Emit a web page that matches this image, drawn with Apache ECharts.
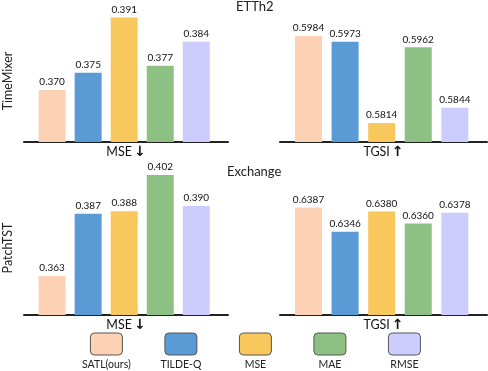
<!DOCTYPE html>
<html>
<head>
<meta charset="utf-8">
<script src="https://cdn.jsdelivr.net/npm/echarts@6/dist/echarts.min.js"></script>
<style>
  html, body { margin: 0; padding: 0; background: #fff; }
  #container { width: 488px; height: 371px; }
</style>
</head>
<body>
<div id="container"></div>
<script>
const methods = ['SATL(ours)', 'TILDE-Q', 'MSE', 'MAE', 'RMSE'];
const colors = ['#fdd1b3', '#5b9bd5', '#f9c85c', '#8dc183', '#ccccff'];
const datasets = ['ETTh2', 'Exchange'];
const models = ['TimeMixer', 'PatchTST'];
const metrics = ['MSE', 'TGSI'];
const arrows = ['↓', '↑'];
const ettMse = [0.370, 0.375, 0.391, 0.377, 0.384];
const ettTgsi = [0.5984, 0.5973, 0.5814, 0.5962, 0.5844];
const excMse = [0.363, 0.387, 0.388, 0.402, 0.390];
const excTgsi = [0.6387, 0.6346, 0.6380, 0.6360, 0.6378];

const FONT = 'Lato, "DejaVu Sans", sans-serif';

// panel layout: row, column, values, decimals, y range
const panels = [
    { data: ettMse, digits: 3, row: 0, col: 0, ymin: 0.3549, ymax: 0.3932 },
    { data: ettTgsi, digits: 4, row: 0, col: 1, ymin: 0.5777, ymax: 0.6035 },
    { data: excMse, digits: 3, row: 1, col: 0, ymin: 0.3479, ymax: 0.4039 },
    { data: excTgsi, digits: 4, row: 1, col: 1, ymin: 0.6206, ymax: 0.6450 }
];
const rowBox = [{ top: 10, height: 132, mid: 81 }, { top: 170, height: 145, mid: 248 }];
const colBox = [{ left: 24, width: 204 }, { left: 280, width: 207 }];

const chart = echarts.init(document.getElementById('container'), null, { renderer: 'canvas' });

const grid = [], xAxis = [], yAxis = [], series = [];
panels.forEach((p, i) => {
    grid.push({
        left: colBox[p.col].left, width: colBox[p.col].width,
        top: rowBox[p.row].top, height: rowBox[p.row].height
    });
    xAxis.push({
        type: 'value', gridIndex: i, min: -0.78, max: 4.88,
        axisLine: { show: true, onZero: false, lineStyle: { color: '#222', width: 2 } },
        axisTick: { show: false }, axisLabel: { show: false }, splitLine: { show: false },
        name: metrics[p.col] + '{a|' + arrows[p.col] + '}', nameLocation: 'middle', nameGap: 3,
        nameTextStyle: {
            fontFamily: FONT, fontSize: 12.5, color: '#111', verticalAlign: 'top',
            rich: { a: { fontFamily: '"DejaVu Sans"', fontWeight: 'bold', fontSize: 14, color: '#111', padding: [0, 0, 0, 2] } }
        }
    });
    yAxis.push({
        type: 'value', gridIndex: i, min: p.ymin, max: p.ymax, show: false
    });
    series.push({
        type: 'bar', xAxisIndex: i, yAxisIndex: i, barWidth: 27,
        data: p.data.map((v, k) => ({ value: [k, v], itemStyle: { color: colors[k] } })),
        label: {
            show: true, position: 'top', distance: 3,
            fontFamily: FONT, fontSize: 10, color: '#111',
            formatter: (param) => param.value[1].toFixed(p.digits)
        }
    });
});

const graphic = [];
// model names on the left, rotated
models.forEach((m, r) => {
    graphic.push({
        type: 'text', x: 8, y: rowBox[r].mid, rotation: Math.PI / 2,
        style: { text: m, fontFamily: FONT, fontSize: 12.5, fill: '#222', textAlign: 'center', textVerticalAlign: 'middle' }
    });
});
// legend: boxes with names underneath
methods.forEach((m, k) => {
    const cx = 106.4 + k * 74.5;
    graphic.push({
        type: 'rect', x: cx - 16, y: 333,
        shape: { x: 0, y: 0, width: 32, height: 22, r: 4 },
        style: { fill: colors[k], stroke: '#555', lineWidth: 1 }
    });
    graphic.push({
        type: 'text', x: cx, y: 365,
        style: { text: m, fontFamily: FONT, fontSize: 10.5, fill: '#222', textAlign: 'center', textVerticalAlign: 'middle' }
    });
});

const option = {
    animation: false,
    title: [
        { text: datasets[0], left: 236, top: 0, padding: 0, textStyle: { fontFamily: FONT, fontSize: 13, fontWeight: 'normal', color: '#222' } },
        { text: datasets[1], left: 227, top: 165, padding: 0, textStyle: { fontFamily: FONT, fontSize: 13, fontWeight: 'normal', color: '#222' } }
    ],
    grid, xAxis, yAxis, series, graphic
};
chart.setOption(option);
window.addEventListener('resize', () => chart.resize());
</script>
</body>
</html>
